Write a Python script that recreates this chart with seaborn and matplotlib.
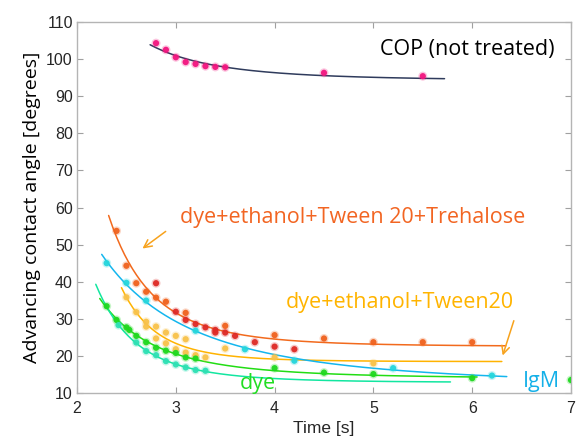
import numpy as np
import pandas as pd
import matplotlib
matplotlib.use("Agg")
import matplotlib.pyplot as plt
import seaborn as sns

# ---------------- data ----------------
cop_t = [2.8, 2.9, 3.0, 3.1, 3.2, 3.3, 3.4, 3.5, 4.5, 5.5]
cop_v = [104.3, 102.5, 100.5, 99.2, 98.7, 98.1, 97.9, 97.8, 96.3, 95.4]

treh_t = [2.4, 2.5, 2.6, 2.7, 2.8, 2.9, 3.1, 3.5, 4.0, 4.5, 5.0, 5.5, 6.0]
treh_v = [53.7, 44.3, 39.6, 37.3, 35.7, 34.6, 31.6, 28.1, 25.6, 24.7, 23.7, 23.7, 23.7]
treh2_t = [2.8, 3.0, 3.1, 3.2, 3.3, 3.4, 3.4, 3.5, 3.6, 3.8, 4.0, 4.2]
treh2_v = [39.6, 31.9, 29.7, 28.6, 27.7, 27.0, 26.3, 26.3, 25.4, 23.7, 22.5, 21.8]

tween_t = [2.5, 2.6, 2.7, 2.7, 2.8, 2.8, 2.9, 2.9, 3.0, 3.0, 3.1, 3.1, 3.2, 3.3, 3.5, 4.0, 5.0]
tween_v = [35.8, 31.8, 29.2, 27.9, 27.9, 24.7, 26.3, 23.4, 25.4, 21.8, 24.5, 20.9, 20.2, 19.6, 22.0, 19.6, 18.0]

igm_t = [2.3, 2.5, 2.7, 3.2, 3.7, 4.2, 5.2, 6.2]
igm_v = [45.0, 39.7, 34.9, 26.8, 21.8, 18.7, 16.7, 14.7]

dye_t = [2.3, 2.4, 2.5, 2.53, 2.6, 2.7, 2.8, 2.9, 3.0, 3.1, 3.2, 4.0, 4.5, 5.0, 6.0, 7.0]
dye_v = [33.4, 29.7, 27.7, 27.0, 25.4, 23.7, 22.2, 21.4, 20.8, 19.6, 19.3, 16.7, 15.5, 15.1, 14.0, 13.5]

dye2_t = [2.42, 2.6, 2.7, 2.8, 2.9, 3.0, 3.1, 3.2, 3.3]
dye2_v = [28.3, 23.6, 21.3, 20.2, 18.6, 17.7, 16.9, 16.2, 16.0]

x_ticks = [2, 3, 4, 5, 6, 7]
y_ticks = [10, 20, 30, 40, 50, 60, 70, 80, 90, 100, 110]

# ---------------- helpers ----------------
def fit_power_offset(t, v, t0, t1, pmin=-12.0):
    """Least-squares fit v = a + b * t**p (grid over p)."""
    t = np.asarray(t, float)
    v = np.asarray(v, float)
    best = None
    for p in np.linspace(pmin, -0.2, 400):
        X = np.column_stack([np.ones_like(t), t ** p])
        coef, *_ = np.linalg.lstsq(X, v, rcond=None)
        sse = float(((X @ coef - v) ** 2).sum())
        if best is None or sse < best[0]:
            best = (sse, p, coef)
    _, p, coef = best
    tt = np.linspace(t0, t1, 200)
    return pd.DataFrame({"t": tt, "v": coef[0] + coef[1] * tt ** p})


sns.set_style("ticks")
plt.rcParams["font.family"] = ["Liberation Sans", "DejaVu Sans"]

fig = plt.figure(figsize=(5.76, 4.41), dpi=100)
ax = fig.add_axes([0.1337, 0.1088, 0.8576, 0.8413])

# fitted trend lines
lines = [
    (cop_t, cop_v, 2.74, 5.72, "#2f3b5c", -4.0),
    (treh_t + treh2_t, treh_v + treh2_v, 2.32, 6.34, "#f26a1d", -12.0),
    (tween_t, tween_v, 2.45, 6.30, "#ffb300", -12.0),
    (igm_t, igm_v, 2.25, 6.35, "#14b6ee", -12.0),
    (dye_t, dye_v, 2.23, 6.05, "#22dd14", -12.0),
    (dye2_t, dye2_v, 2.19, 5.78, "#12e6a0", -12.0),
]
for t, v, t0, t1, c, pmin in lines:
    df = fit_power_offset(t, v, t0, t1, pmin)
    sns.lineplot(data=df, x="t", y="v", color=c, lw=1.1, ax=ax, sort=False)

# points
pts = [
    (cop_t, cop_v, "#f2157f"),
    (treh_t, treh_v, "#f0621e"),
    (treh2_t, treh2_v, "#de2a26"),
    (tween_t, tween_v, "#f8c24a"),
    (igm_t, igm_v, "#25d6dc"),
    (dye_t, dye_v, "#1fd81f"),
    (dye2_t, dye2_v, "#2ee0b4"),
]
for t, v, c in pts:
    df = pd.DataFrame({"t": t, "v": v})
    sns.scatterplot(data=df, x="t", y="v", color=c, s=42, alpha=0.25,
                    edgecolor="none", ax=ax, zorder=3)
    sns.scatterplot(data=df, x="t", y="v", color=c, s=20, alpha=0.95,
                    edgecolor="none", ax=ax, zorder=4)

# annotations
lab_font = ["Open Sans", "DejaVu Sans"]
fs = 15.5
ax.text(5.07, 102.5, "COP (not treated)", color="black", fontsize=fs,
        family=lab_font, va="center", ha="left")
ax.text(3.04, 57.4, "dye+ethanol+Tween 20+Trehalose", color="#f26522",
        fontsize=fs, family=lab_font, va="center", ha="left")
ax.text(4.11, 34.5, "dye+ethanol+Tween20", color="#ffb400", fontsize=fs,
        family=lab_font, va="center", ha="left")
ax.text(6.51, 13.2, "IgM", color="#14b0e8", fontsize=fs, family=lab_font,
        va="center", ha="left")
ax.text(3.65, 12.7, "dye", color="#22dd22", fontsize=fs, family=lab_font,
        va="center", ha="left")

arrow_kw = dict(arrowstyle="->", color="#f7a21c", lw=1.1, mutation_scale=14)
ax.annotate("", xy=(2.64, 48.5), xytext=(2.92, 54.0), arrowprops=arrow_kw)
ax.annotate("", xy=(6.30, 19.4), xytext=(6.43, 30.2), arrowprops=arrow_kw)

# axes styling
ax.set_xlim(2, 7)
ax.set_ylim(10, 110)
ax.set_xticks(x_ticks)
ax.set_yticks(y_ticks)
ax.tick_params(direction="in", length=4, width=0.8, color="#a0a0a0",
               labelsize=11.5, labelcolor="#262626", top=True, right=True,
               pad=3)
ax.tick_params(axis="x", pad=6)
for s in ax.spines.values():
    s.set_visible(True)
    s.set_color("#b4b4b4")
    s.set_linewidth(1.0)
ax.set_xlabel("Time [s]", fontsize=12.5, color="#262626", labelpad=3)
ax.set_ylabel("Advancing contact angle [degrees]", fontsize=14,
              family=lab_font, color="black", labelpad=4)

fig.savefig("out.png", dpi=100)
